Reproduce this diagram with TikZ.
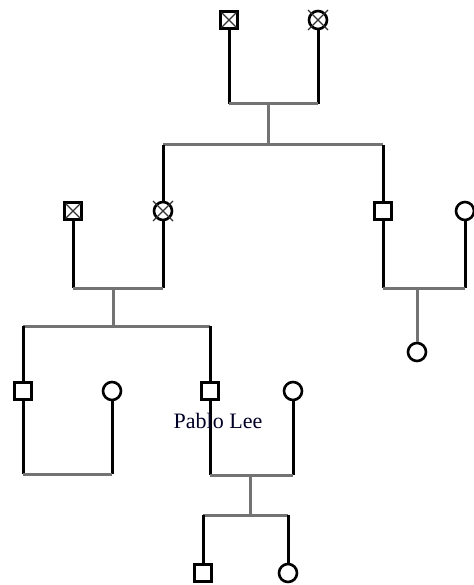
\documentclass[tikz,border=0pt]{standalone}
\usepackage{fontspec}
\setmainfont{Liberation Serif}
\begin{document}
\begin{tikzpicture}[x=1pt,y=-1pt,
  sq/.style={draw, line width=3pt, minimum size=17pt, inner sep=0pt},
  ci/.style={circle, draw, line width=2.6pt, minimum size=18pt, inner sep=0pt},
  blk/.style={line width=3pt, black},
  gry/.style={line width=3pt, color=gray!90!black},
  xl/.style={line width=1.1pt, black!80},
  lbl/.style={font=\fontsize{22}{24}\selectfont, text=black!85!blue, inner sep=0pt}]
\useasboundingbox (0,0) rectangle (473,585);
% symbols
\node[sq] (A) at (229,20) {};
\node[ci] (B) at (318,20) {};
\node[sq] (C) at (73,211) {};
\node[ci] (D) at (163,211) {};
\node[sq] (E) at (383,211) {};
\node[ci] (F) at (465,211) {};
\node[ci] (G) at (417,352) {};
\node[sq] (H) at (23,391) {};
\node[ci] (I) at (112,391) {};
\node[sq] (J) at (210,391) {};
\node[ci] (K) at (293,391) {};
\node[sq] (L) at (203,573) {};
\node[ci] (M) at (288,573) {};
% crosses
\foreach \n in {A,C}{
  \draw[xl] ([shift={(-7.5,-7.5)}]\n.center) -- ([shift={(7.5,7.5)}]\n.center);
  \draw[xl] ([shift={(-7.5,7.5)}]\n.center) -- ([shift={(7.5,-7.5)}]\n.center);
}
\foreach \n in {B,D}{
  \draw[xl] ([shift={(-10,-10)}]\n.center) -- ([shift={(10,10)}]\n.center);
  \draw[xl] ([shift={(-10,10)}]\n.center) -- ([shift={(10,-10)}]\n.center);
}
% junction coordinates
\coordinate (ab) at (268,104);
\coordinate (s1) at (268,145);
\coordinate (cd) at (113,288);
\coordinate (s2) at (113,326);
\coordinate (ef) at (417,288);
\coordinate (hi) at (67,474);
\coordinate (jk) at (250,475);
\coordinate (s3) at (250,515);
% couple A-B
\draw[blk] (A.south) -- (A |- ab);
\draw[blk] (B.south) -- (B |- ab);
\draw[gry] (A |- ab) -- (B |- ab);
\draw[gry] (ab) -- (s1);
\draw[gry] (D |- s1) -- (E |- s1);
\draw[blk] (D |- s1) -- (D.north);
\draw[blk] (E |- s1) -- (E.north);
% couple C-D
\draw[blk] (C.south) -- (C |- cd);
\draw[blk] (D.south) -- (D |- cd);
\draw[gry] (C |- cd) -- (D |- cd);
\draw[gry] (cd) -- (s2);
\draw[gry] (H |- s2) -- (J |- s2);
\draw[blk] (H |- s2) -- (H.north);
\draw[blk] (J |- s2) -- (J.north);
% couple E-F
\draw[blk] (E.south) -- (E |- ef);
\draw[blk] (F.south) -- (F |- ef);
\draw[gry] (E |- ef) -- (F |- ef);
\draw[gry] (ef) -- (G.north);
% couple H-I
\draw[blk] (H.south) -- (H |- hi);
\draw[blk] (I.south) -- (I |- hi);
\draw[gry] (H |- hi) -- (I |- hi);
% couple J-K
\draw[blk] (J.south) -- (J |- jk);
\draw[blk] (K.south) -- (K |- jk);
\draw[gry] (J |- jk) -- (K |- jk);
\draw[gry] (jk) -- (s3);
\draw[gry] (L |- s3) -- (M |- s3);
\draw[blk] (L |- s3) -- (L.north);
\draw[blk] (M |- s3) -- (M.north);
% label
\node[lbl] (pl) at (218,421) {Pablo Lee};
\end{tikzpicture}
\end{document}
